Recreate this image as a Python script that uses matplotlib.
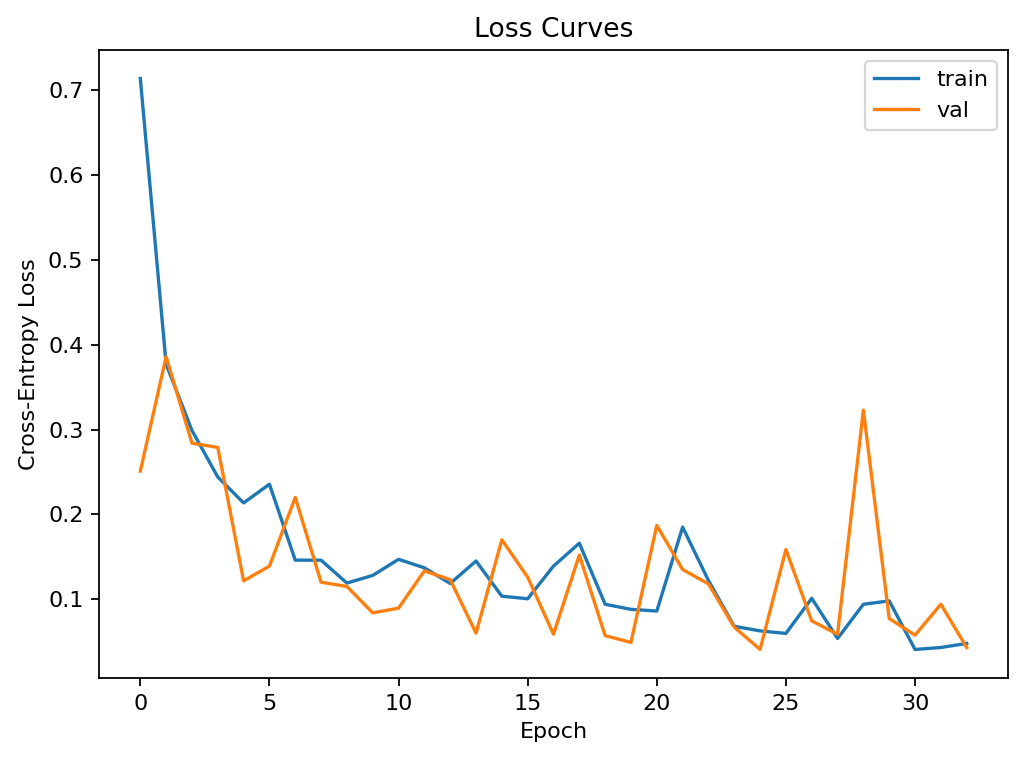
import matplotlib
matplotlib.use("Agg")
import matplotlib.pyplot as plt

# values
epochs = list(range(33))

train_loss = [0.714, 0.377, 0.299, 0.244, 0.2135, 0.2356, 0.146, 0.146, 0.119, 0.128,
              0.147, 0.137, 0.1185, 0.145, 0.1035, 0.1005, 0.139, 0.166, 0.094, 0.088,
              0.086, 0.185, 0.122, 0.068, 0.0626, 0.0596, 0.101, 0.0536, 0.094, 0.098,
              0.0407, 0.043, 0.0478]

val_loss = [0.251, 0.386, 0.284, 0.279, 0.1216, 0.139, 0.220, 0.120, 0.115, 0.0839,
            0.0894, 0.1334, 0.123, 0.060, 0.170, 0.126, 0.0587, 0.152, 0.057, 0.049,
            0.187, 0.135, 0.118, 0.067, 0.0407, 0.1586, 0.0744, 0.0587, 0.323, 0.0772,
            0.0576, 0.094, 0.043]

fig, ax = plt.subplots(figsize=(6.4, 4.775), dpi=160)

ax.plot(epochs, train_loss, label="train")
ax.plot(epochs, val_loss, label="val")

ax.set_xlabel("Epoch")
ax.set_ylabel("Cross-Entropy Loss")
ax.set_title("Loss Curves")
ax.legend()

# axes box placed to match the reference
fig.subplots_adjust(left=99 / 1024, right=1008 / 1024,
                    bottom=1 - 678 / 764, top=1 - 50 / 764)
fig.savefig("out.png", dpi=160)
